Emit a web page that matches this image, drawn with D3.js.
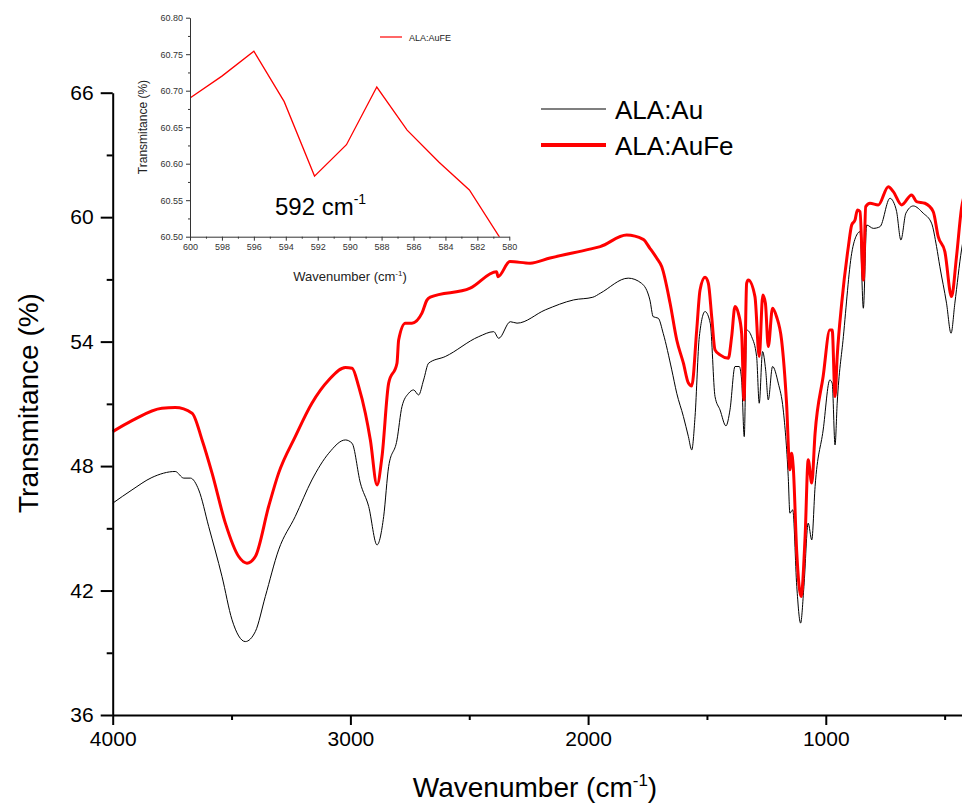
<!DOCTYPE html>
<html>
<head>
<meta charset="utf-8">
<script src="https://cdn.jsdelivr.net/npm/d3@7"></script>
<style>
  body { margin: 0; background: #fff; }
  svg { display: block; font-family: "Liberation Sans", Arial, sans-serif; }
</style>
</head>
<body>
<svg id="chart"></svg>
<script>
// ---- data ----
var seriesNames = ["ALA:Au", "ALA:AuFe"];

// ALA:Au (black)
var auWave = [4000, 3919, 3835, 3737, 3701, 3673, 3638, 3596, 3540, 3498, 3442, 3400, 3358, 3302, 3232, 3162, 3091, 3021, 2993, 2958, 2923, 2888, 2860, 2839, 2804, 2783, 2755, 2734, 2713, 2692, 2671, 2601, 2460, 2397, 2376, 2327, 2299, 2180, 2061, 1980, 1949, 1831, 1775, 1740, 1726, 1705, 1684, 1648, 1627, 1599, 1578, 1564, 1550, 1532, 1508, 1486, 1466, 1445, 1420, 1403, 1382, 1364, 1354, 1343, 1333, 1312, 1291, 1280, 1266, 1253, 1242, 1224, 1200, 1179, 1158, 1151, 1139, 1122, 1106, 1092, 1074, 1059, 1045, 1011, 983, 973, 961, 952, 926, 891, 870, 856, 842, 828, 800, 772, 730, 716, 702, 684, 663, 632, 590, 555, 534, 520, 492, 473, 457, 429, 410];
var auValue = [46.21, 46.85, 47.45, 47.74, 47.42, 47.42, 46.85, 45.08, 42.67, 40.59, 39.54, 40.02, 41.71, 43.96, 45.57, 47.33, 48.62, 49.26, 49.10, 47.18, 46.05, 44.20, 45.57, 47.98, 49.26, 50.87, 51.51, 51.67, 51.43, 52.15, 52.96, 53.28, 54.24, 54.48, 54.16, 54.96, 54.89, 55.53, 56.01, 56.14, 56.33, 57.06, 56.81, 56.01, 55.20, 55.13, 54.40, 52.64, 51.51, 50.39, 49.42, 48.78, 50.39, 54.24, 55.45, 54.89, 51.35, 50.71, 49.94, 50.71, 52.80, 52.80, 52.15, 49.42, 54.56, 54.24, 53.28, 51.03, 53.52, 52.64, 51.19, 52.80, 52.00, 50.71, 47.49, 45.73, 45.89, 42.19, 40.43, 42.19, 45.25, 44.44, 47.01, 49.74, 52.15, 52.00, 49.02, 51.03, 54.24, 58.26, 59.14, 59.30, 55.61, 59.62, 59.46, 59.54, 60.91, 60.75, 60.27, 58.90, 60.19, 60.54, 60.19, 59.71, 58.58, 57.61, 55.85, 54.40, 55.85, 58.42, 59.6];

// ALA:AuFe (red)
var aufeWave = [4000, 3919, 3793, 3737, 3666, 3624, 3582, 3526, 3470, 3435, 3400, 3344, 3302, 3232, 3162, 3091, 3021, 2993, 2965, 2937, 2916, 2888, 2867, 2839, 2804, 2797, 2769, 2741, 2699, 2678, 2664, 2496, 2385, 2379, 2329, 2244, 2160, 1993, 1949, 1838, 1768, 1740, 1711, 1690, 1655, 1627, 1599, 1578, 1564, 1543, 1529, 1508, 1494, 1480, 1466, 1445, 1410, 1396, 1382, 1368, 1354, 1344, 1333, 1326, 1298, 1280, 1265, 1254, 1242, 1224, 1207, 1186, 1165, 1151, 1144, 1137, 1122, 1104, 1087, 1074, 1059, 1045, 1011, 983, 973, 961, 952, 933, 905, 891, 877, 867, 856, 842, 832, 814, 779, 737, 716, 681, 639, 618, 583, 548, 527, 499, 471, 450, 429, 410];
var aufeValue = [49.66, 50.19, 50.79, 50.82, 50.55, 49.26, 47.66, 45.25, 43.64, 43.32, 43.64, 46.05, 47.66, 49.42, 51.03, 52.15, 52.75, 52.72, 51.83, 50.55, 49.26, 47.09, 48.46, 52.00, 52.96, 54.08, 54.89, 54.89, 55.37, 56.00, 56.14, 56.58, 57.37, 57.13, 57.86, 57.78, 58.03, 58.46, 58.58, 59.14, 58.93, 58.50, 58.02, 57.61, 55.85, 54.08, 52.96, 52.00, 51.86, 54.56, 56.49, 57.10, 56.81, 55.20, 53.60, 53.36, 53.20, 54.24, 55.69, 55.37, 54.40, 51.19, 56.81, 56.97, 56.17, 53.28, 56.25, 55.85, 53.76, 55.61, 55.20, 54.08, 51.03, 47.82, 48.62, 47.98, 43.80, 41.71, 44.60, 48.30, 47.18, 49.59, 52.33, 54.56, 54.56, 51.35, 53.28, 55.85, 58.58, 59.62, 59.86, 60.35, 60.27, 56.97, 60.51, 60.67, 60.59, 61.47, 61.23, 60.59, 61.07, 60.75, 60.67, 60.27, 59.06, 58.34, 56.17, 58.10, 60.43, 61.3];

var xTicks = [4000, 3000, 2000, 1000];
var xMinorTicks = [3500, 2500, 1500, 500];
var yTicks = [36, 42, 48, 54, 60, 66];
var yMinorTicks = [39, 45, 51, 57, 63];

// inset: ALA:AuFE around 592 cm-1
var insetName = "ALA:AuFE";
var insetWave = [600.0, 598.0, 596.0, 594.1, 592.2, 590.2, 588.3, 586.4, 584.4, 582.5, 580.6, 578.7];
var insetValue = [60.690, 60.720, 60.754, 60.685, 60.583, 60.626, 60.705, 60.646, 60.602, 60.564, 60.499, 60.44];
var insetXTicks = [600, 598, 596, 594, 592, 590, 588, 586, 584, 582, 580];
var insetYTicks = [60.50, 60.55, 60.60, 60.65, 60.70, 60.75, 60.80];
var insetNote = "592 cm";

// ---- drawing ----
var width = 962, height = 803;
var svg = d3.select("#chart").attr("width", width).attr("height", height);

var x = d3.scaleLinear([4000, 400], [112.7, 968.4]);
var y = d3.scaleLinear([36, 66], [715, 92.7]);

// spectra are smooth between the read points, so use a monotone curve (no overshoot at the sharp bands)
var line = d3.line()
    .x(function(d) { return x(d[0]); })
    .y(function(d) { return y(d[1]); })
    .curve(d3.curveMonotoneX);

svg.append("path")
    .attr("fill", "none").attr("stroke", "#000").attr("stroke-width", 1)
    .attr("stroke-linejoin", "round")
    .attr("d", line(d3.zip(auWave, auValue)));

svg.append("path")
    .attr("fill", "none").attr("stroke", "#ff0000").attr("stroke-width", 3)
    .attr("stroke-linejoin", "round")
    .attr("d", line(d3.zip(aufeWave, aufeValue)));

// x axis
var gx = svg.append("g").attr("transform", "translate(0,715)");
gx.call(d3.axisBottom(x).tickValues(xTicks).tickFormat(d3.format("d")).tickSize(10).tickSizeOuter(0).tickPadding(6));
gx.append("g").call(d3.axisBottom(x).tickValues(xMinorTicks).tickFormat("").tickSize(5).tickSizeOuter(0))
    .call(function(g) { g.select(".domain").remove(); });
gx.selectAll("text").attr("font-size", 21).attr("fill", "#000").attr("font-family", "Liberation Sans Narrow, Liberation Sans, Arial");
gx.selectAll("line").attr("stroke-width", 2);
gx.select(".domain").attr("stroke-width", 2);

// y axis
var gy = svg.append("g").attr("transform", "translate(112.7,0)");
gy.call(d3.axisLeft(y).tickValues(yTicks).tickFormat(d3.format("d")).tickSize(12).tickSizeOuter(0).tickPadding(7));
gy.append("g").call(d3.axisLeft(y).tickValues(yMinorTicks).tickFormat("").tickSize(6).tickSizeOuter(0))
    .call(function(g) { g.select(".domain").remove(); });
gy.selectAll("text").attr("font-size", 21).attr("fill", "#000");
gy.selectAll("line").attr("stroke-width", 2);
gy.select(".domain").attr("stroke-width", 2);

// axis titles
var xt = svg.append("text").attr("x", 535).attr("y", 797).attr("text-anchor", "middle")
    .attr("font-size", 28).text("Wavenumber (cm");
xt.append("tspan").attr("font-size", 17).attr("dy", -11).text("-1");
xt.append("tspan").attr("dy", 11).text(")");

svg.append("text").attr("transform", "translate(38,403) rotate(-90)").attr("text-anchor", "middle")
    .attr("font-size", 28).text("Transmitance (%)");

// legend
var legend = svg.append("g");
var legendColors = ["#000", "#ff0000"];
var legendWidths = [1.2, 4];
seriesNames.forEach(function(name, i) {
  var ly = 109 + i * 36;
  legend.append("line").attr("x1", 541).attr("x2", 606).attr("y1", ly).attr("y2", ly)
      .attr("stroke", legendColors[i]).attr("stroke-width", legendWidths[i]);
  legend.append("text").attr("x", 615).attr("y", ly + 10).attr("font-size", 26).text(name);
});

// ---- inset ----
var ix = d3.scaleLinear([600, 580], [190, 509.3]);
var iy = d3.scaleLinear([60.50, 60.80], [236.7, 17.7]);
var inset = svg.append("g");

inset.append("clipPath").attr("id", "insetClip").append("rect")
    .attr("x", 190).attr("y", 17.7).attr("width", 319.3).attr("height", 219);

var iline = d3.line().x(function(d) { return ix(d[0]); }).y(function(d) { return iy(d[1]); });
inset.append("path")
    .attr("clip-path", "url(#insetClip)")
    .attr("fill", "none").attr("stroke", "#ff0000").attr("stroke-width", 1.3)
    .attr("d", iline(d3.zip(insetWave, insetValue)));

var igx = inset.append("g").attr("transform", "translate(0,236.7)");
igx.call(d3.axisBottom(ix).tickValues(insetXTicks).tickFormat(d3.format("d")).tickSize(4).tickSizeOuter(0).tickPadding(3));
igx.append("g").call(d3.axisBottom(ix).tickValues(d3.range(599, 580, -2)).tickFormat("").tickSize(2).tickSizeOuter(0))
    .call(function(g) { g.select(".domain").remove(); });
var igy = inset.append("g").attr("transform", "translate(190,0)");
igy.call(d3.axisLeft(iy).tickValues(insetYTicks).tickFormat(d3.format(".2f")).tickSize(4).tickSizeOuter(0).tickPadding(3));
igy.append("g").call(d3.axisLeft(iy).tickValues(d3.range(60.525, 60.80, 0.05)).tickFormat("").tickSize(2).tickSizeOuter(0))
    .call(function(g) { g.select(".domain").remove(); });
inset.selectAll("text").attr("font-size", 9).attr("fill", "#333");
inset.selectAll(".domain").attr("stroke", "#333");
inset.selectAll("line").attr("stroke", "#333");

var ixt = inset.append("text").attr("x", 350).attr("y", 281).attr("text-anchor", "middle")
    .attr("font-size", 13).attr("fill", "#222").text("Wavenumber (cm");
ixt.append("tspan").attr("font-size", 8).attr("dy", -5).text("-1");
ixt.append("tspan").attr("dy", 5).text(")");

inset.append("text").attr("transform", "translate(147,127) rotate(-90)").attr("text-anchor", "middle")
    .attr("font-size", 12).attr("fill", "#222").text("Transmitance (%)");

inset.append("line").attr("x1", 380).attr("x2", 402).attr("y1", 37).attr("y2", 37)
    .attr("stroke", "#ff0000").attr("stroke-width", 1.2);
inset.append("text").attr("x", 409).attr("y", 40.5).attr("font-size", 9).attr("fill", "#222").text(insetName);

var note = inset.append("text").attr("x", 275).attr("y", 215).attr("font-size", 24).attr("fill", "#000").text(insetNote);
note.append("tspan").attr("font-size", 14).attr("dy", -11).text("-1");
</script>
</body>
</html>
